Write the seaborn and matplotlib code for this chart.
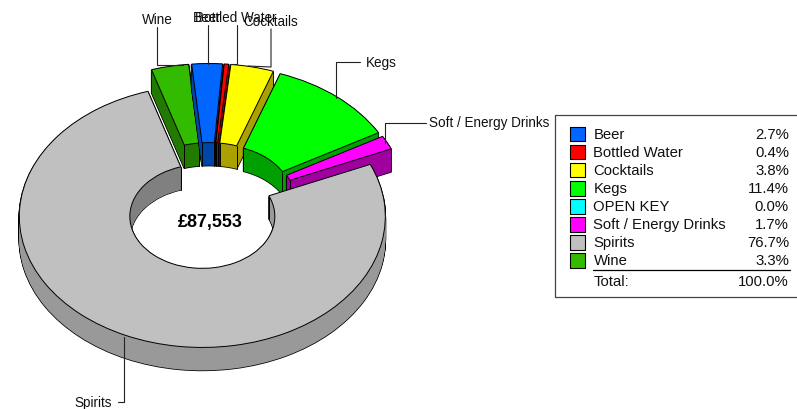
import numpy as np
import matplotlib
matplotlib.use('Agg')
import matplotlib.pyplot as plt
import seaborn as sns

# chart values
categories = ['Beer', 'Bottled Water', 'Cocktails', 'Kegs', 'OPEN KEY',
              'Soft / Energy Drinks', 'Spirits', 'Wine']
shares = [2.7, 0.4, 3.8, 11.4, 0.0, 1.7, 76.7, 3.3]
total_label = '£87,553'

top_colors = ['#0066FF', '#FF0000', '#FFFF00', '#00FF00', '#00FFFF',
              '#FF00FF', '#C0C0C0', '#33BB00']
side_colors = ['#0046A8', '#A80000', '#AAA000', '#00A000', '#00A8A8',
               '#A000A0', '#999999', '#227A00']

# layout, in pixels of the output picture
W, H = 797, 409
SQUASH = 0.716
CX, CY = 209, 206
R_OUT, R_IN = 183, 72.5
EXPLODE = 16
DEPTH = 23
START = 95.4

# (text, text x, text y, ha, leader points)
callouts = [
    ('Wine', 157, 20.5, 'center', [(157, 27), (157, 65), (183, 65)]),
    ('Beer', 207, 17.5, 'center', [(208, 25), (208, 64)]),
    ('Bottled Water', 236, 17.5, 'center', [(237, 25), (237, 64), (230, 64)]),
    ('Cocktails', 271, 21.5, 'center', [(271, 29), (271, 67), (248, 66)]),
    ('Kegs', 366, 62.5, 'left', [(360, 62), (336, 62), (336, 98)]),
    ('Soft / Energy Drinks', 429, 123.5, 'left', [(426, 123), (385, 123), (385, 143)]),
    ('Spirits', 112, 402.5, 'right', [(118, 402), (124.5, 402), (124.5, 337)]),
]


def to_data_y(py):
    return (H - py) / SQUASH


def draw_slice(ax, share, start, top, side, z, hole_wall=None):
    """One exploded ring slice: stacked layers for the depth, then the top face"""
    common = dict(startangle=start, counterclock=False, normalize=False,
                  radius=R_OUT, explode=[EXPLODE])
    frac = [share / 100]
    mid = np.deg2rad(start - share * 1.8)
    ox = CX + EXPLODE * np.cos(mid)
    oy = CY - EXPLODE * np.sin(mid) * SQUASH

    for d in range(DEPTH, 0, -1):
        ax.pie(frac, center=(CX, to_data_y(CY + d)), colors=[side], **common,
               wedgeprops=dict(width=R_OUT - R_IN, edgecolor='black', linewidth=1.1, zorder=z))
    for d in range(DEPTH, 0, -1):
        ax.pie(frac, center=(CX, to_data_y(CY + d)), colors=[side], **common,
               wedgeprops=dict(width=R_OUT - R_IN, linewidth=0, zorder=z + 0.1))
        if hole_wall:
            # the far side of the hole is darker, from the left round to the cut
            ax.pie([(200 - (start - share * 3.6 + 360)) / 360],
                   center=(ox, to_data_y(oy + d)), startangle=200, counterclock=False,
                   normalize=False, radius=R_IN + 5, colors=[hole_wall],
                   wedgeprops=dict(width=5, linewidth=0, zorder=z + 0.2))

    # inner corners get a vertical edge
    for ang in (start, start - share * 3.6):
        a = np.deg2rad(ang)
        px = ox + R_IN * np.cos(a)
        py = oy - R_IN * np.sin(a) * SQUASH
        ax.plot([px, px], [to_data_y(py), to_data_y(py + DEPTH)],
                color='black', lw=0.7, zorder=z + 0.3)

    ax.pie(frac, center=(CX, to_data_y(CY)), colors=[top], **common,
           wedgeprops=dict(width=R_OUT - R_IN, edgecolor='black', linewidth=0.7, zorder=z + 0.4))


sns.set_theme(style='white')
plt.rcParams['font.family'] = ['Liberation Sans', 'DejaVu Sans']

fig = plt.figure(figsize=(W / 100, H / 100), dpi=100, facecolor='white')
ax = fig.add_axes([0, 0, 1, 1])

# start angle of every slice, clockwise from Beer
starts = START - np.cumsum([0] + shares[:-1]) * 3.6

# back slices first, Spirits in front
order = [7, 0, 1, 2, 3, 5, 6]
for z, i in enumerate(order, start=1):
    draw_slice(ax, shares[i], starts[i], top_colors[i], side_colors[i], z,
               hole_wall='#808080' if categories[i] == 'Spirits' else None)

ax.set_aspect('auto')
ax.set_xlim(0, W)
ax.set_ylim(0, H / SQUASH)
ax.axis('off')

# overlay in pixel coordinates for the annotation and the legend
ov = fig.add_axes([0, 0, 1, 1], facecolor='none')
ov.set_xlim(0, W)
ov.set_ylim(H, 0)
ov.axis('off')

ov.text(210.5, 222.5, total_label, ha='center', va='center', fontsize=12.9,
        fontweight='bold', color='black')

for name, tx, ty, ha, pts in callouts:
    ov.text(tx, ty, name, ha=ha, va='center', fontsize=9.75, color='#111111')
    ov.plot([p[0] for p in pts], [p[1] for p in pts], color='#222222', lw=0.8)

# legend box
ov.plot([800, 555.5, 555.5, 800], [114.5, 114.5, 297, 297], color='#444444', lw=0.9)
row_y = 134 + np.arange(len(categories)) * 18.1
sns.scatterplot(x=[577.5] * len(categories), y=row_y, hue=categories,
                palette=top_colors, marker='s', s=108, edgecolor='black',
                linewidth=0.8, legend=False, ax=ov)
ov.set_xlim(0, W)
ov.set_ylim(H, 0)
ov.axis('off')

for name, share, y in zip(categories, shares, row_y):
    ov.text(593.5, y + 0.6, name, ha='left', va='center', fontsize=10.7, color='#111111')
    ov.text(789, y + 0.6, f'{share:.1f}%', ha='right', va='center', fontsize=10.7, color='#111111')
ov.plot([593, 790], [270, 270], color='black', lw=0.9)
ov.text(593.5, 282, 'Total:', ha='left', va='center', fontsize=10.7, color='#111111')
ov.text(789, 282, f'{sum(shares):.1f}%', ha='right', va='center', fontsize=10.7, color='#111111')

fig.savefig('out.png', dpi=100)
plt.close(fig)
